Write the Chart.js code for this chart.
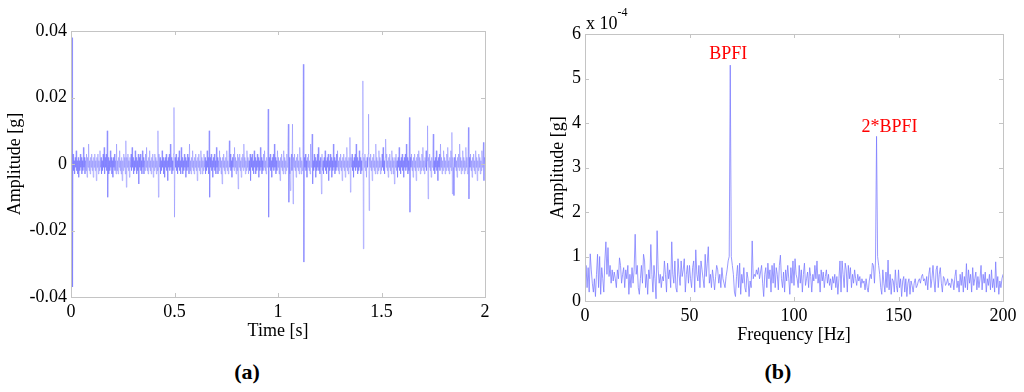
<!DOCTYPE html>
<html>
<head>
<meta charset="utf-8">
<script src="https://cdn.jsdelivr.net/npm/chart.js@4"></script>
<style>
  html, body { margin: 0; padding: 0; background: #fff; }
  body { width: 1024px; height: 392px; position: relative; overflow: hidden; }
  canvas { position: absolute; top: 0; }
  #timeChart { left: 0; }
  #specChart { left: 520px; }
  .panel-label {
    position: absolute; top: 359px; width: 60px; margin-left: -30px; text-align: center;
    font: bold 22px "Liberation Serif", serif; color: #000;
  }
</style>
</head>
<body>
<canvas id="timeChart" width="512" height="350"></canvas>
<canvas id="specChart" width="504" height="350"></canvas>
<div class="panel-label" style="left:247px">(a)</div>
<div class="panel-label" style="left:778px">(b)</div>
<script>
// (a) time signal, 2 s at 0.0025 s per sample, amplitude in mg (1e-3 g)
const timeStep = 0.0025;
const timeSignalMg = [
  0, 2, 38, -37, 3, -2, 1, -3, 2, -1, 4, -2, 1, -3, 2, -4, 1, -2, 3, -1,
  2, -3, 1, -2, 5, -1, 2, -3, 1, -2, 3, -4, 2, -1, 6, -2, 1, -3, 2, -1,
  3, -2, 1, -4, 2, -1, 3, -2, 1, -5, 2, -1, 3, -3, 1, -2, 4, -1, 2, -3,
  1, -2, 3, -1, 5, -3, 2, -1, 3, -2, 10, -10, 2, -3, 1, -2, 4, -1, 2, -3,
  1, -4, 2, -1, 3, -2, 1, -3, 6, -2, 1, -3, 2, -1, 4, -2, 1, -3, 2, -5,
  1, -2, 3, -1, 2, -3, 7, -7, 2, -1, 3, -2, 1, -4, 2, -1, 3, -2, 5, -1,
  2, -3, 1, -2, 4, -1, 2, -3, 1, -2, 3, -6, 2, -1, 3, -2, 1, -3, 4, -1,
  2, -3, 1, -2, 3, -1, 5, -2, 1, -3, 2, -1, 4, -2, 1, -3, 2, -1, 3, -4,
  1, -2, 3, -1, 2, -3, 1, -2, 10, -10, 3, -1, 2, -3, 1, -2, 4, -1, 2, -3,
  1, -4, 2, -1, 3, -2, 1, -5, 2, -1, 3, -2, 6, -1, 2, -3, 1, -2, 3, 17,
  -16, 2, -1, 3, -2, 1, -3, 2, -1, 4, -2, 1, -3, 5, -1, 2, -3, 1, -2, 3,
  -1, 2, -4, 1, -2, 3, -1, 2, -3, 6, -2, 1, -3, 2, -1, 4, -2, 1, -3, 2,
  -1, 3, -2, 1, -5, 2, -1, 3, -2, 1, -3, 4, -1, 2, -3, 1, -2, 3, -1, 2,
  -3, 1, -2, 4, -1, 2, -3, 10, -10, 2, -1, 3, -2, 1, -4, 2, -1, 3, -2, 1,
  -3, 5, -1, 2, -3, 1, -2, 4, -1, 2, -3, 1, -6, 2, -1, 3, -2, 1, -3, 2,
  -1, 4, -2, 1, -3, 2, 7, -1, 3, -2, 1, -4, 2, -1, 3, -2, 5, -1, 2, -3,
  1, -2, 3, -7.5, 2, -1, 3, -2, 1, -4, 2, -1, 3, -2, 6, -1, 2, -3, 1, -2,
  4, -1, 2, -3, 1, -2, 3, -5, 2, -1, 3, -2, 1, -3, 4, -1, 2, -3, 1, -2,
  3, -1, 2, -4, 1, -2, 5, -1, 2, -3, 1, -2, 3, -1, 4, -2, 1, -3, 2, -1,
  3, 16.5, -16, 2, -1, 3, -2, 1, -4, 2, -1, 3, -2, 6, -1, 2, -3, 1, -2, 4,
  -1, 2, -3, 1, -5, 2, -1, 3, -2, 1, -3, 4, -1, 2, -3, 1, -2, 3, -1, 5,
  12, -11.5, 2, -3, -8, 1, 3, -2, 12, -12, 2, -1, 3, -2, 1, -4, 2, -1, 3, -2,
  1, -3, 5, -1, 2, -3, 1, -2, 4, 30, -29.5, 2, -1, 3, -2, 1, -4, 2, -1, 3,
  -2, 1, -3, 6, -1, 2, 9, -6, 1, -2, 3, -1, 2, -4, 1, -2, 3, -1, 5, -2,
  1, -3, 2, -1, -9, 3, -2, 1, -3, 2, -1, 4, -2, 1, -3, 2, -1, 3, -5, 1,
  -2, 3, -1, 2, -4, 1, -2, 6, -1, 2, -3, 1, -2, 3, -1, 4, -2, 1, -3, 2,
  -1, 3, -2, 1, -5, 2, -1, 3, -2, 1, -4, 2, -1, 5, -2, 1, -3, 2, -1, 8,
  -8.5, 2, -1, 3, -2, 1, -4, 2, -1, 3, -2, 6, -1, 2, -3, 1, -2, 4, -1, 2,
  -3, 1, -2, 3, 25, -25.5, 2, -1, 3, -2, 1, -4, 2, -1, 3, 15, -14, 2, -1, 3,
  -2, 1, -5, 2, -1, 3, -2, 1, -3, 6, -1, 2, -3, 1, -2, 4, -1, 2, -3, 1,
  -2, 3, -1, 5, -2, 1, -3, 2, 7.5, -1, 3, -2, 1, -4, 2, -1, 3, -2, 1, -3,
  4, -1, 2, -3, 1, -6, 2, -1, 3, -2, 1, -4, 2, -1, 5, -2, 1, -3, 2, -1,
  3, -2, 1, -4, 2, -1, 3, -2, 6, -1, 2, -3, 1, -2, 14, -14.5, 2, -1, 3, -2,
  1, -4, 2, -1, 3, -2, 1, -5, 2, -1, 3, -2, 4, -1, 2, -3, 1, -2, 3, -1,
  5, -2, 1, -3, 2, -1, 4, -2, 1, 11.5, -10.5, 2, -1, 3, -2, 1, -4, 2, -1, 3,
  9, -2, 1, -3, 2, -1, 4, -2, 1, -5, 2, -1, 3, -2, 6, -1, 2, -3, 1, -2,
  4, -1, 2, -3, 1, -2, 3, -1, 5, -2, 1, -3, 2, -1, 4, -2, 9.5, -9, 2, -1,
  -9.5, 2, -1, 3, -2, 1, -4, 2, -1, 3, -2, 6, -1, 2, -3, 1, -2, 4, -1, 2,
  -3, 1, -2, 5, -1, 2, -3, 1, 11, -10.5, 2, -1, 3, -2, 1, -4, 2, -1, 3, -2,
  1, -3, 4, -1, 2, -5, 1, -2, 3, -1, 2, -3, 1, -2, 4, -1, 2, 6.5, -5, 2,
  0
];
const timeTicks = [0, 0.5, 1, 1.5, 2];
const ampTicksMg = [-40, -20, 0, 20, 40];

// (b) spectrum, 0..200 Hz at 0.5 Hz per bin, amplitude in 1e-4 g
const freqStep = 0.5;
const spectrumE4 = [
  0.1, 0.8, 0.3, 0.75, 0.2, 1.06, 0.7, 0.4, 0.2, 0.5, 0.1, 0.6, 1.05, 0.3, 1.0, 0.15, 0.75, 0.5, 0.2, 0.9,
  1.33, 0.6, 1.2, 0.55, 0.8, 0.4, 0.7, 0.45, 0.65, 0.5, 0.3, 0.7, 0.5, 0.97, 0.8, 0.4, 0.6, 0.75, 0.3, 0.7,
  0.5, 0.8, 0.15, 0.6, 0.3, 0.75, 0.4, 0.7, 1.5, 0.6, 0.8, 0.3, 0.15, 0.5, 0.8, 0.4, 1.05, 0.9, 0.3, 0.6,
  0.15, 0.7, 0.5, 1.27, 0.6, 0.2, 0.8, 0.5, 0.05, 1.58, 0.7, 0.4, 0.6, 0.3, 0.55, 0.45, 0.9, 0.6, 0.2, 0.85,
  0.5, 0.7, 0.3, 1.33, 0.6, 0.4, 0.9, 0.3, 0.2, 0.95, 0.6, 0.35, 0.9, 0.55, 0.7, 0.95, 0.2, 0.6, 0.8, 0.4,
  0.8, 0.5, 0.3, 0.75, 0.9, 0.2, 1.15, 0.6, 0.45, 0.8, 0.3, 0.9, 0.7, 0.5, 0.3, 1.05, 0.55, 0.85, 1.22, 0.4,
  0.6, 0.3, 0.7, 0.5, 0.25, 0.55, 0.8, 0.7, 0.4, 0.6, 0.3, 0.75, 0.5, 0.4, 0.3, 0.55, 0.7, 0.9, 1.0, 5.3,
  1.0, 0.8, 0.6, 0.2, 0.1, 0.55, 0.8, 0.3, 0.85, 0.15, 0.6, 0.4, 0.75, 0.3, 0.2, 0.65, 0.5, 0.1, 0.45, 0.3,
  1.35, 0.5, 0.6, 0.55, 0.7, 0.6, 0.75, 0.5, 0.65, 0.8, 0.4, 0.1, 0.6, 0.75, 0.3, 0.85, 0.5, 0.7, 0.2, 0.8,
  0.4, 0.85, 0.3, 0.75, 0.6, 0.25, 0.8, 1.03, 0.5, 0.3, 0.65, 0.2, 0.7, 0.45, 0.8, 0.5, 0.15, 0.75, 0.4, 0.9,
  0.35, 0.95, 0.6, 0.5, 0.3, 0.8, 0.4, 0.7, 0.2, 0.6, 0.85, 0.35, 0.5, 0.65, 0.3, 0.75, 0.55, 0.2, 0.6, 0.45,
  0.8, 0.5, 0.9, 0.4, 0.6, 0.2, 0.7, 0.45, 0.65, 0.3, 0.55, 0.7, 0.4, 0.6, 0.35, 0.5, 0.25, 0.55, 0.4, 0.6,
  0.3, 0.55, 0.15, 0.5, 0.9, 0.2, 0.9, 0.6, 0.3, 0.85, 0.7, 0.2, 0.8, 0.5, 0.75, 0.3, 0.6, 0.4, 0.7, 0.5,
  0.35, 0.6, 0.45, 0.55, 0.3, 0.5, 0.4, 0.45, 0.25, 0.5, 0.3, 0.2, 0.45, 0.6, 0.5, 0.85, 0.8, 0.4, 0.9, 3.7,
  1.0, 0.8, 0.6, 0.3, 0.15, 0.7, 0.4, 0.2, 0.65, 0.3, 0.92, 0.25, 0.6, 0.15, 0.5, 0.45, 0.2, 0.7, 0.35, 0.2,
  0.7, 0.3, 0.5, 0.1, 0.45, 0.55, 0.2, 0.5, 0.1, 0.4, 0.5, 0.15, 0.45, 0.35, 0.2, 0.4, 0.5, 0.3, 0.35, 0.45,
  0.5, 0.4, 0.55, 0.6, 0.45, 0.5, 0.35, 0.55, 0.25, 0.6, 0.75, 0.3, 0.5, 0.8, 0.45, 0.2, 0.7, 0.79, 0.3, 0.6,
  0.75, 0.4, 0.2, 0.55, 0.5, 0.35, 0.4, 0.5, 0.35, 0.4, 0.3, 0.5, 0.45, 0.25, 0.55, 0.7, 0.3, 0.45, 0.2, 0.6,
  0.35, 0.65, 0.2, 0.55, 0.3, 0.84, 0.25, 0.7, 0.4, 0.6, 0.2, 0.75, 0.35, 0.5, 0.65, 0.25, 0.55, 0.3, 0.5, 0.8,
  0.25, 0.6, 0.4, 0.65, 0.2, 0.5, 0.35, 0.6, 0.25, 0.7, 0.3, 0.5, 0.2, 0.88, 0.3, 0.55, 0.15, 0.45, 0.3, 0.5,
  0.6
];
const freqTicks = [0, 50, 100, 150, 200];
const specTicks = [0, 1, 2, 3, 4, 5, 6];

// fault frequency labels
const peakLabels = ['BPFI', '2*BPFI'];
const peakFreqs = [69.5, 139.5];
const peakAmps = [5.3, 3.7];

const FONT = '"Liberation Serif", "Times New Roman", serif';
const axisFont = { family: FONT, size: 18 };

// MATLAB-like box with inward tick marks on all four sides
const boxPlugin = {
  id: 'matlabBox',
  afterDraw(chart) {
    const { ctx, chartArea: a, scales } = chart;
    ctx.save();
    ctx.strokeStyle = '#c4c4c4';
    ctx.lineWidth = 1;
    ctx.strokeRect(Math.round(a.left) + 0.5, Math.round(a.top) + 0.5,
      Math.round(a.right - a.left), Math.round(a.bottom - a.top));
    ctx.beginPath();
    scales.x.ticks.forEach(t => {
      const px = Math.round(scales.x.getPixelForValue(t.value)) + 0.5;
      ctx.moveTo(px, a.bottom); ctx.lineTo(px, a.bottom - 4);
      ctx.moveTo(px, a.top); ctx.lineTo(px, a.top + 4);
    });
    scales.y.ticks.forEach(t => {
      const py = Math.round(scales.y.getPixelForValue(t.value)) + 0.5;
      ctx.moveTo(a.left, py); ctx.lineTo(a.left + 4, py);
      ctx.moveTo(a.right, py); ctx.lineTo(a.right - 4, py);
    });
    ctx.stroke();
    ctx.restore();
  }
};

function fixedTicks(values) {
  return (scale) => { scale.ticks = values.map(v => ({ value: v })); };
}

function baseOptions(pad, yWidth, xHeight, titlePadBottom) {
  return {
    responsive: false,
    animation: false,
    layout: { padding: pad },
    plugins: { legend: { display: false }, tooltip: { enabled: false } },
    elements: { point: { radius: 0 }, line: { tension: 0 } },
    scales: {
      x: {
        type: 'linear',
        grid: { display: false, drawTicks: false, tickLength: 0 },
        border: { display: false },
        ticks: { padding: 4, maxRotation: 0, color: '#000', font: axisFont },
        title: { display: true, color: '#000', font: axisFont, padding: { top: 0, bottom: titlePadBottom } },
        afterFit: (s) => { s.height = xHeight; }
      },
      y: {
        grid: { display: false, drawTicks: false, tickLength: 0 },
        border: { display: false },
        ticks: { padding: 4, color: '#000', font: axisFont },
        title: { display: true, text: 'Amplitude [g]', color: '#000', font: axisFont, padding: { top: 4, bottom: 0 } },
        afterFit: (s) => { s.width = yWidth; }
      }
    }
  };
}

// (a) time signal
const timeOpts = baseOptions({ left: 0, right: 27, top: 31, bottom: 0 }, 71, 53, 8);
timeOpts.scales.x.min = 0;
timeOpts.scales.x.max = 2;
timeOpts.scales.x.afterBuildTicks = fixedTicks(timeTicks);
timeOpts.scales.x.ticks.callback = (v) => String(v);
timeOpts.scales.x.title.text = 'Time [s]';
timeOpts.scales.y.min = -40;
timeOpts.scales.y.max = 40;
timeOpts.scales.y.afterBuildTicks = fixedTicks(ampTicksMg);
timeOpts.scales.y.ticks.callback = (v) => v === 0 ? '0' : (v / 1000).toFixed(2);

new Chart(document.getElementById('timeChart'), {
  type: 'line',
  data: {
    datasets: [{
      data: timeSignalMg.map((v, i) => ({ x: i * timeStep, y: v })),
      borderColor: 'rgba(110, 110, 255, 0.4)',
      borderWidth: 1
    }]
  },
  options: timeOpts,
  plugins: [boxPlugin]
});

// (b) spectrum
const annotatePlugin = {
  id: 'peakText',
  afterDraw(chart) {
    const { ctx, chartArea: a, scales } = chart;
    ctx.save();
    // exponent label above the y axis
    ctx.fillStyle = '#000';
    ctx.textBaseline = 'middle';
    ctx.textAlign = 'left';
    ctx.font = '18px ' + FONT;
    ctx.fillText('x 10', a.left + 1, a.top - 10);
    const w = ctx.measureText('x 10').width;
    ctx.font = '12px ' + FONT;
    ctx.fillText('-4', a.left + 1 + w, a.top - 21);
    // fault labels
    ctx.fillStyle = '#ff0000';
    ctx.font = '18px ' + FONT;
    ctx.textAlign = 'center';
    ctx.textBaseline = 'alphabetic';
    const dx = [-2, 13];
    const dy = [-6, -4];
    peakLabels.forEach((txt, i) => {
      const px = scales.x.getPixelForValue(peakFreqs[i]) + dx[i];
      const py = scales.y.getPixelForValue(peakAmps[i]) + dy[i];
      ctx.fillText(txt, px, py);
    });
    ctx.restore();
  }
};

const specOpts = baseOptions({ left: 23, right: 21, top: 34, bottom: 0 }, 42, 49, 4);
specOpts.scales.x.min = 0;
specOpts.scales.x.max = 200;
specOpts.scales.x.afterBuildTicks = fixedTicks(freqTicks);
specOpts.scales.x.title.text = 'Frequency [Hz]';
specOpts.scales.y.min = 0;
specOpts.scales.y.max = 6;
specOpts.scales.y.afterBuildTicks = fixedTicks(specTicks);

new Chart(document.getElementById('specChart'), {
  type: 'line',
  data: {
    datasets: [{
      data: spectrumE4.map((v, i) => ({ x: i * freqStep, y: v })),
      borderColor: 'rgba(120, 120, 255, 0.75)',
      borderWidth: 1
    }]
  },
  options: specOpts,
  plugins: [boxPlugin, annotatePlugin]
});
</script>
</body>
</html>
